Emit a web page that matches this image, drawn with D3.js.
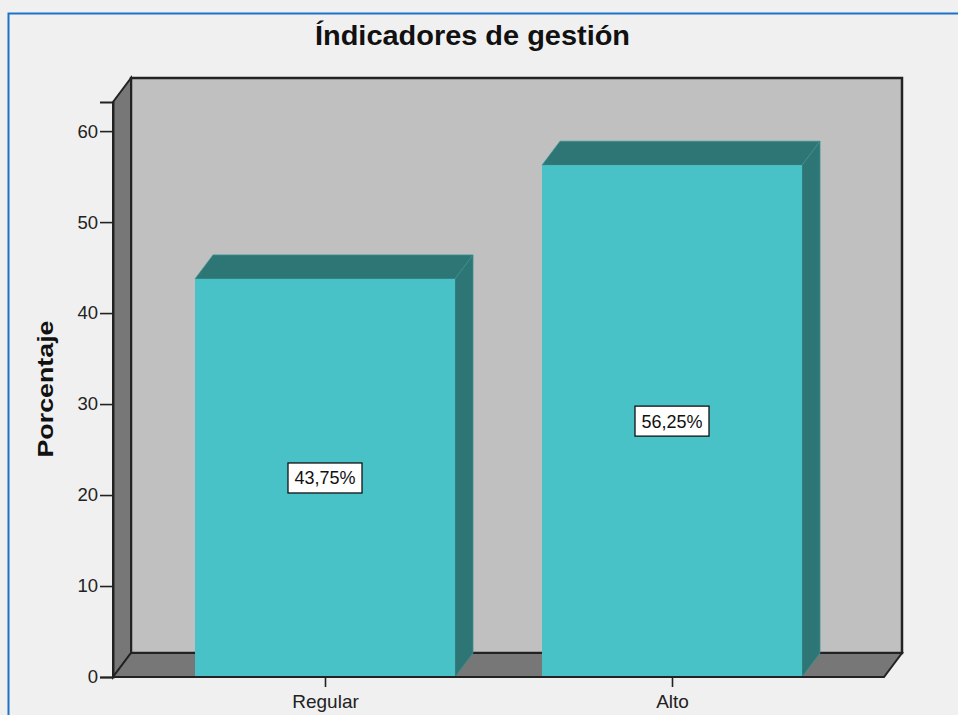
<!DOCTYPE html>
<html>
<head>
<meta charset="utf-8">
<script src="https://cdn.jsdelivr.net/npm/d3@7"></script>
<style>
  body { margin: 0; background: #f0f0f0; }
  svg { display: block; font-family: "Liberation Sans", Arial, sans-serif; }
</style>
</head>
<body>
<svg id="chart" width="958" height="715"></svg>
<script>
// chart data
const categories = ['Regular', 'Alto'];
const percentages = [43.75, 56.25];
const barLabels = ['43,75%', '56,25%'];
const yTicks = [0, 10, 20, 30, 40, 50, 60];

const plotLeft = 113, plotRight = 884, plotBottom = 677, plotTop = 102;
const dx = 18, dy = -24; // 3d depth
const barWidth = 260;

const svg = d3.select('#chart');

// panel border
svg.append('rect')
  .attr('x', 8.5).attr('y', 13.5)
  .attr('width', 960).attr('height', 720)
  .attr('fill', '#f0f0f0')
  .attr('stroke', '#1a73c8')
  .attr('stroke-width', 2);

const y = d3.scaleLinear().domain([0, 63.2]).range([plotBottom, plotTop]);
const x = d3.scalePoint().domain(categories).range([151.5, 845.5]).padding(0.5);

const poly = (pts) => 'M' + pts.map((p) => p.join(',')).join('L') + 'Z';

// back wall
svg.append('path')
  .attr('d', poly([[plotLeft + dx, plotTop + dy], [plotRight + dx, plotTop + dy], [plotRight + dx, plotBottom + dy], [plotLeft + dx, plotBottom + dy]]))
  .attr('fill', '#c0c0c0')
  .attr('stroke', '#222')
  .attr('stroke-width', 2.5);

// left side wall
svg.append('path')
  .attr('d', poly([[plotLeft, plotTop], [plotLeft + dx, plotTop + dy], [plotLeft + dx, plotBottom + dy], [plotLeft, plotBottom]]))
  .attr('fill', '#777777')
  .attr('stroke', '#222')
  .attr('stroke-width', 2);

// floor
svg.append('path')
  .attr('d', poly([[plotLeft, plotBottom], [plotLeft + dx, plotBottom + dy], [plotRight + dx, plotBottom + dy], [plotRight, plotBottom]]))
  .attr('fill', '#777777')
  .attr('stroke', '#222')
  .attr('stroke-width', 2);

// bars
const bars = svg.append('g').selectAll('g')
  .data(percentages)
  .join('g');

bars.append('path')
  .attr('d', (d, i) => {
    const x0 = x(categories[i]) - barWidth / 2, x1 = x0 + barWidth;
    return poly([[x0, y(d)], [x0 + dx, y(d) + dy], [x1 + dx, y(d) + dy], [x1, y(d)]]);
  })
  .attr('fill', '#2e7676')
  .attr('stroke', '#3a9090')
  .attr('stroke-width', 0.8);

bars.append('path')
  .attr('d', (d, i) => {
    const x1 = x(categories[i]) + barWidth / 2;
    return poly([[x1, y(d)], [x1 + dx, y(d) + dy], [x1 + dx, y(0) + dy], [x1, y(0)]]);
  })
  .attr('fill', '#2e7676')
  .attr('stroke', '#3a9090')
  .attr('stroke-width', 0.8);

bars.append('rect')
  .attr('x', (d, i) => x(categories[i]) - barWidth / 2)
  .attr('y', (d) => y(d))
  .attr('width', barWidth)
  .attr('height', (d) => y(0) - y(d))
  .attr('fill', '#48c2c6');

// value labels
const labels = svg.append('g').selectAll('g')
  .data(percentages)
  .join('g')
  .attr('transform', (d, i) => `translate(${x(categories[i])},${y(d / 2)})`);

labels.append('rect')
  .attr('x', -37).attr('y', -15)
  .attr('width', 74).attr('height', 30)
  .attr('fill', '#fff')
  .attr('stroke', '#111')
  .attr('stroke-width', 1.3);

labels.append('text')
  .attr('text-anchor', 'middle')
  .attr('dy', '0.36em')
  .attr('font-size', 18)
  .attr('fill', '#111')
  .text((d, i) => barLabels[i]);

// y axis
const yAxis = d3.axisLeft(y).tickValues(yTicks).tickSize(13).tickPadding(2);
const gy = svg.append('g')
  .attr('transform', `translate(${plotLeft},0)`)
  .call(yAxis);
gy.select('.domain').attr('stroke', '#222').attr('stroke-width', 2);
gy.selectAll('.tick line').attr('stroke', '#222').attr('stroke-width', 1.6);
gy.selectAll('.tick text').attr('font-size', 18.5).attr('fill', '#222')
  .attr('font-family', '"Liberation Sans", Arial, sans-serif');

// x axis
const xAxis = d3.axisBottom(x).tickSize(10).tickPadding(8);
const gx = svg.append('g')
  .attr('transform', `translate(0,${plotBottom})`)
  .call(xAxis);
gx.select('.domain').attr('stroke', '#222').attr('stroke-width', 2)
  .attr('d', `M${plotLeft},0H${plotRight}`);
gx.selectAll('.tick line').attr('stroke', '#222').attr('stroke-width', 1.6);
gx.selectAll('.tick text').attr('font-size', 19).attr('fill', '#222')
  .attr('font-family', '"Liberation Sans", Arial, sans-serif');

// title
svg.append('text')
  .attr('x', 472.5).attr('y', 45)
  .attr('text-anchor', 'middle')
  .attr('font-size', 27)
  .attr('font-weight', 'bold')
  .attr('fill', '#111')
  .attr('textLength', 315)
  .attr('lengthAdjust', 'spacingAndGlyphs')
  .text('Índicadores de gestión');

// y axis title
svg.append('text')
  .attr('transform', 'translate(53,389) rotate(-90)')
  .attr('text-anchor', 'middle')
  .attr('font-size', 22)
  .attr('font-weight', 'bold')
  .attr('fill', '#111')
  .attr('textLength', 137)
  .attr('lengthAdjust', 'spacingAndGlyphs')
  .text('Porcentaje');
</script>
</body>
</html>
